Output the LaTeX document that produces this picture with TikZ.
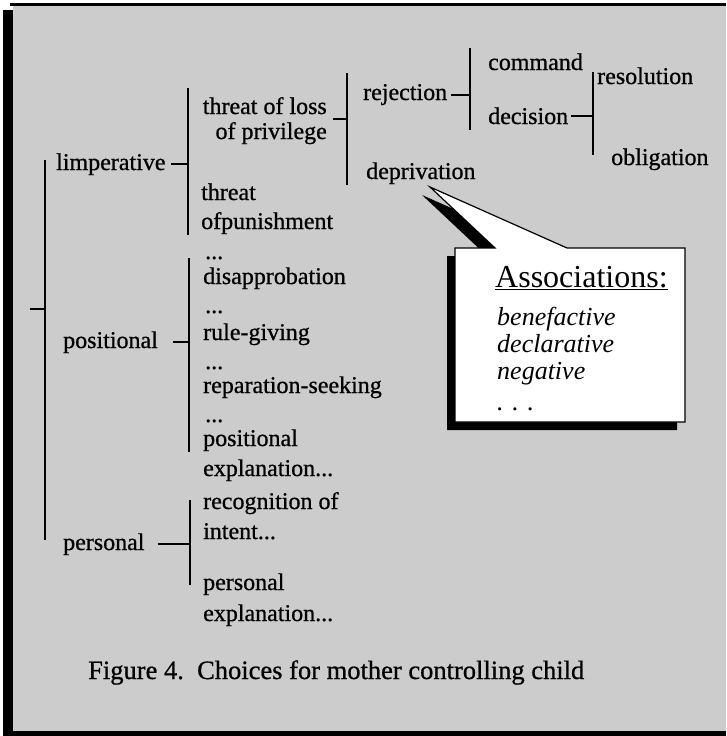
\documentclass[tikz,border=0pt]{standalone}
\usepackage{fontspec}
\setmainfont{Liberation Serif}
\newfontfamily\inkfont{Liberation Serif}[FakeBold=0.8]
\usetikzlibrary{calc}

\begin{document}
\begin{tikzpicture}[line cap=butt,line join=miter,x=1pt,y=-1pt,
	lbl/.style={anchor=base west,inner sep=0pt,font=\inkfont\fontsize{24}{30}\selectfont},
	lblr/.style={lbl,anchor=base east},
	dots/.style={lbl,font=\inkfont\fontsize{24}{30}\selectfont,text height=6pt},
	boxtxt/.style={anchor=base west,inner sep=0pt,font=\fontsize{26}{27}\selectfont\itshape},
	brk/.style={line width=2.8pt},
	tck/.style={line width=2pt}]
	\useasboundingbox (0,0) rectangle (726,736);
	% frame
	\fill[black!20] (13,6) rectangle (726,731);
	\draw[line width=3pt] (10,4.5) -- (726,4.5);
	\fill (3,10) rectangle (13,736);
	\fill (3,731) rectangle (726,736);
	% callout
	\fill[shift={(-8,8)}] (455,248) -- (495,248) -- (430,187) -- (567,248) -- (685,248) -- (685,422) -- (455,422) -- cycle;
	\draw[fill=white,line width=1.2pt] (455,248) -- (495,248) -- (430,187) -- (567,248) -- (685,248) -- (685,422) -- (455,422) -- cycle;
	\node[anchor=base west,inner sep=0pt,font=\fontsize{32}{36}\selectfont] (asc) at (495,287) {\underline{Associations:}};
	\node[boxtxt] (ben) at (497,325) {benefactive};
	\node[boxtxt] (decl) at (497,352) {declarative};
	\node[boxtxt] (neg) at (497,379) {negative};
	\node[boxtxt] (etc) at (497,410) {. . .};
	% labels
	\node[lbl] (cmd) at (488,70) {command};
	\node[lbl] (res) at (597,84) {resolution};
	\node[lbl] (rej) at (363,100) {rejection};
	\node[lbl] (dec) at (488,124) {decision};
	\node[lbl] (obl) at (611,165) {obligation};
	\node[lblr] (tol) at (327,114) {threat of loss};
	\node[lblr] (tol2) at (327,139) {of privilege};
	\node[lbl] (dep) at (366,179) {deprivation};
	\node[lbl] (imp) at (56,170) {limperative};
	\node[lbl] (thr) at (201,200) {threat};
	\node[lbl] (thr2) at (201,229) {ofpunishment};
	\node[dots] (d1) at (205,259) {...};
	\node[lbl] (dis) at (203,284) {disapprobation};
	\node[dots] (d2) at (205,313) {...};
	\node[lbl] (rul) at (203,340) {rule-giving};
	\node[dots] (d3) at (205,369) {...};
	\node[lbl] (rep) at (203,393) {reparation-seeking};
	\node[dots] (d4) at (205,422) {...};
	\node[lbl] (pex) at (203,446) {positional};
	\node[lbl] (pex2) at (203,476) {explanation...};
	\node[lbl] (pos) at (63,348) {positional};
	\node[lbl] (rec) at (203,509) {recognition of};
	\node[lbl] (rec2) at (203,539) {intent...};
	\node[lbl] (per) at (63,550) {personal};
	\node[lbl] (pe) at (203,590) {personal};
	\node[lbl] (pe2) at (203,621) {explanation...};
	\node[lbl,font=\inkfont\fontsize{26.5}{30}\selectfont] (cap) at (88,679) {Figure 4.\ \ Choices for mother controlling child};
	% bracket ends
	\coordinate (r0) at (45,160);
	\coordinate (r1) at (45,540);
	\coordinate (rt) at (30,309);
	\coordinate (i0) at (188,88);
	\coordinate (i1) at (188,235);
	\coordinate (t0) at (347,73);
	\coordinate (t1) at (347,185);
	\coordinate (j0) at (470,48);
	\coordinate (j1) at (470,130);
	\coordinate (k0) at (593,72);
	\coordinate (k1) at (593,155);
	\coordinate (p0) at (189,258);
	\coordinate (p1) at (189,452);
	\coordinate (q0) at (190,500);
	\coordinate (q1) at (190,585);
	\coordinate (tolm) at ($(tol.east)!.5!(tol2.east)+(6,0)$);
	% brackets
	\draw[brk] (r0) -- (r1);
	\draw[brk] (i0) -- (i1);
	\draw[brk] (t0) -- (t1);
	\draw[brk] (j0) -- (j1);
	\draw[brk] (k0) -- (k1);
	\draw[brk] (p0) -- (p1);
	\draw[brk] (q0) -- (q1);
	% ticks
	\draw[tck] (rt) -- (r0 |- rt);
	\draw[tck] ([xshift=5pt]imp.east) -- (i0 |- imp.east);
	\draw[tck] ([xshift=15pt]pos.east) -- (p0 |- pos.east);
	\draw[tck] ([xshift=13pt]per.east) -- (q0 |- per.east);
	\draw[tck] (tolm) -- (t0 |- tolm);
	\draw[tck] ([xshift=4pt]rej.east) -- (j0 |- rej.east);
	\draw[tck] ([xshift=3pt]dec.east) -- (k0 |- dec.east);
\end{tikzpicture}
\end{document}
